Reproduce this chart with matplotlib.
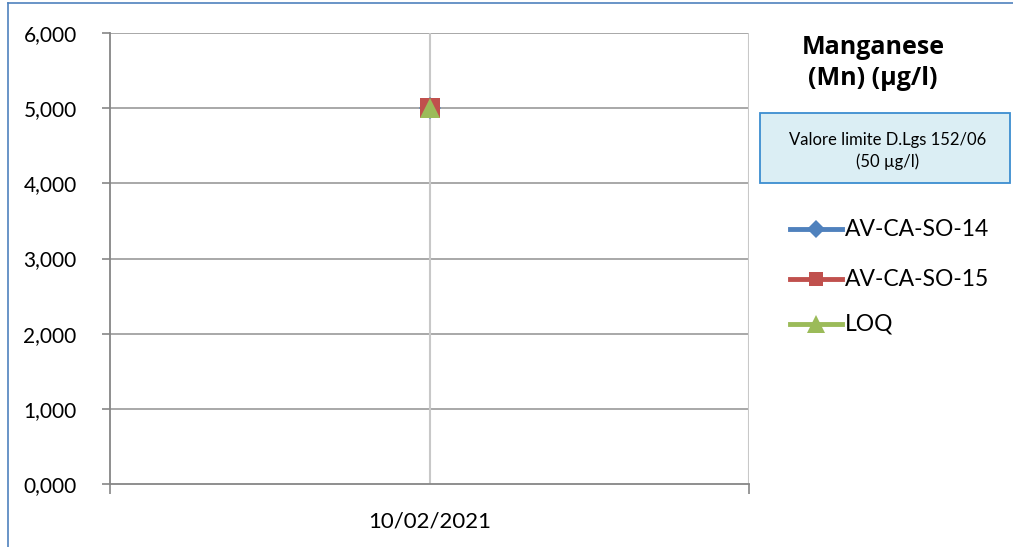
import matplotlib
matplotlib.use("Agg")
import matplotlib.pyplot as plt
from matplotlib.patches import Rectangle
from matplotlib.lines import Line2D
from matplotlib.ticker import FuncFormatter

categories = ["10/02/2021"]
series_names = ["AV-CA-SO-14", "AV-CA-SO-15", "LOQ"]
av_ca_so_14 = [5.0]
av_ca_so_15 = [5.0]
loq = [5.0]
yticks = [0, 1, 2, 3, 4, 5, 6]
title_text = "Manganese\n(Mn) (µg/l)"
box_text = "Valore limite D.Lgs 152/06\n(50 µg/l)"

colors = ["#4f81bd", "#c0504d", "#9bbb59"]
markers = ["D", "s", "^"]
msizes = [11, 14.5, 15]
leg_msizes = [9, 10.5, 12.5]

plt.rcParams['font.family'] = ['Lato', 'DejaVu Sans']

W, H = 1013, 547
fig = plt.figure(figsize=(W / 100, H / 100), dpi=100)
fig.patch.set_facecolor("white")

# figure border (left and top visible)
fig.add_artist(Line2D([8 / W, 8 / W], [0, 1 - 3 / H], transform=fig.transFigure, color="#4f81bd", lw=1.2))
fig.add_artist(Line2D([8 / W, 1], [1 - 3 / H, 1 - 3 / H], transform=fig.transFigure, color="#4f81bd", lw=1.2))

ax = fig.add_axes([110 / W, 1 - 484 / H, (749 - 110) / W, (484 - 33) / H])
ax.set_xlim(0.5, 1.5)
ax.set_ylim(0, 6)
x = list(range(1, len(categories) + 1))

# gridlines
for yv in yticks[1:]:
    ax.axhline(yv, color="#9a9a9a", lw=1.2, zorder=1)
ax.axvline(1, color="#c8c8c8", lw=1.5, zorder=1)
ax.axvline(1.5, color="#c8c8c8", lw=1.5, zorder=1)

for vals, c, m, ms, name in zip([av_ca_so_14, av_ca_so_15, loq], colors, markers, msizes, series_names):
    ax.plot(x, vals, color=c, lw=3, marker=m, markersize=ms, markeredgewidth=0, zorder=3, label=name)

for s in ["top", "right"]:
    ax.spines[s].set_visible(False)
ax.spines["left"].set_color("#868686")
ax.spines["bottom"].set_color("#868686")
ax.spines["left"].set_linewidth(1.3)
ax.spines["bottom"].set_linewidth(1.3)

ax.set_yticks(yticks)
ax.yaxis.set_major_formatter(FuncFormatter(lambda v, p: f"{v:,.3f}".replace(".", ",")))
ax.tick_params(axis="y", length=6, width=1.2, color="#868686", labelsize=15, pad=18)
ax.set_xticks([0.5, 1.5])
ax.set_xticklabels(["", ""])
ax.tick_params(axis="x", length=7, width=1.2, color="#868686")
ax.set_xticks(x, minor=True)
ax.set_xticklabels(categories, minor=True)
ax.tick_params(axis="x", which="minor", length=0, labelsize=16, pad=20)

# title
fig.text(873 / W, 1 - 63 / H, title_text, ha="center", va="center", fontsize=18,
         fontweight="bold", family=["Open Sans", "DejaVu Sans"], linespacing=1.35)

# box
fig.add_artist(Rectangle((760 / W, 1 - 183 / H), (1010 - 760) / W, 70 / H, transform=fig.transFigure,
                         facecolor="#dbeef4", edgecolor="#3c8dd0", lw=1.3))
fig.text(888 / W, 1 - 151 / H, box_text, ha="center", va="center", fontsize=12, linespacing=1.35)

# legend
leg_y = [229, 279, 324]
for name, c, m, ms, yy in zip(series_names, colors, markers, leg_msizes, leg_y):
    fy = 1 - yy / H
    fig.add_artist(Line2D([790 / W, 842 / W], [fy, fy], transform=fig.transFigure, color=c, lw=3.5))
    fig.add_artist(Line2D([816 / W], [fy], transform=fig.transFigure, color=c, marker=m,
                          markersize=ms, markeredgewidth=0, linestyle="none"))
    fig.text(845 / W, fy, name, ha="left", va="center", fontsize=16.5)

fig.savefig("out.png", dpi=100, facecolor="white")
